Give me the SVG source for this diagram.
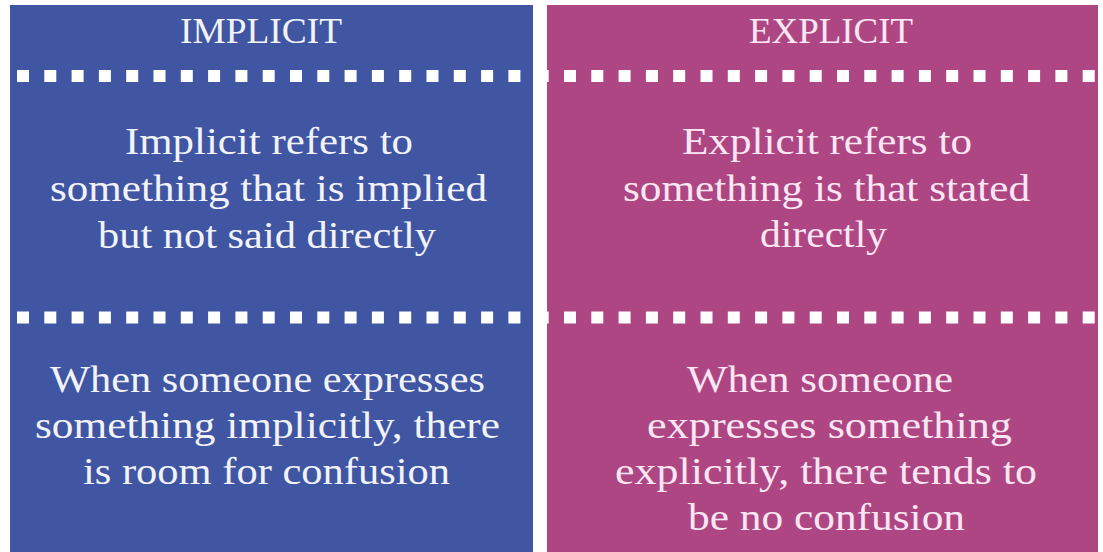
<svg xmlns="http://www.w3.org/2000/svg" width="1103" height="552" viewBox="0 0 1103 552">
  <style>
    .t { font-family: "Liberation Serif", "Times New Roman", serif; font-size: 38px; }
    .tb { fill: #F2F3FA; }
    .tp { fill: #FBE6F3; }
    .title { font-size: 35px; }
    .dots { stroke: #FFFFFF; stroke-width: 12; stroke-dasharray: 12 15.3; fill: none; }
  </style>
  <rect x="0" y="0" width="1103" height="552" fill="#FFFFFF"/>
  <g id="implicit">
    <rect x="10" y="5" width="523" height="547" fill="#4056A2"/>
    <line class="dots" x1="17" y1="76" x2="533" y2="76"/>
    <line class="dots" x1="17" y1="317.5" x2="533" y2="317.5"/>
    <text class="t tb title" x="180" y="43" textLength="162" lengthAdjust="spacingAndGlyphs">IMPLICIT</text>
    <text class="t tb" x="125" y="154" textLength="288" lengthAdjust="spacingAndGlyphs">Implicit refers to</text>
    <text class="t tb" x="50" y="201" textLength="437" lengthAdjust="spacingAndGlyphs">something that is implied</text>
    <text class="t tb" x="98" y="248" textLength="338" lengthAdjust="spacingAndGlyphs">but not said directly</text>
    <text class="t tb" x="50" y="392" textLength="435" lengthAdjust="spacingAndGlyphs">When someone expresses</text>
    <text class="t tb" x="35" y="438" textLength="465" lengthAdjust="spacingAndGlyphs">something implicitly, there</text>
    <text class="t tb" x="83" y="484" textLength="367" lengthAdjust="spacingAndGlyphs">is room for confusion</text>
  </g>
  <g id="explicit">
    <rect x="547" y="5" width="551" height="547" fill="#AE4683"/>
    <line class="dots" x1="547" y1="76" x2="1098" y2="76" stroke-dashoffset="10.3"/>
    <line class="dots" x1="547" y1="317.5" x2="1098" y2="317.5" stroke-dashoffset="10.3"/>
    <text class="t tp title" x="749" y="43" textLength="164" lengthAdjust="spacingAndGlyphs">EXPLICIT</text>
    <text class="t tp" x="682" y="154" textLength="290" lengthAdjust="spacingAndGlyphs">Explicit refers to</text>
    <text class="t tp" x="623" y="201" textLength="407" lengthAdjust="spacingAndGlyphs">something is that stated</text>
    <text class="t tp" x="760" y="247" textLength="127" lengthAdjust="spacingAndGlyphs">directly</text>
    <text class="t tp" x="687" y="392" textLength="266" lengthAdjust="spacingAndGlyphs">When someone</text>
    <text class="t tp" x="647" y="438" textLength="365" lengthAdjust="spacingAndGlyphs">expresses something</text>
    <text class="t tp" x="615" y="484" textLength="422" lengthAdjust="spacingAndGlyphs">explicitly, there tends to</text>
    <text class="t tp" x="688" y="530" textLength="277" lengthAdjust="spacingAndGlyphs">be no confusion</text>
  </g>
</svg>
